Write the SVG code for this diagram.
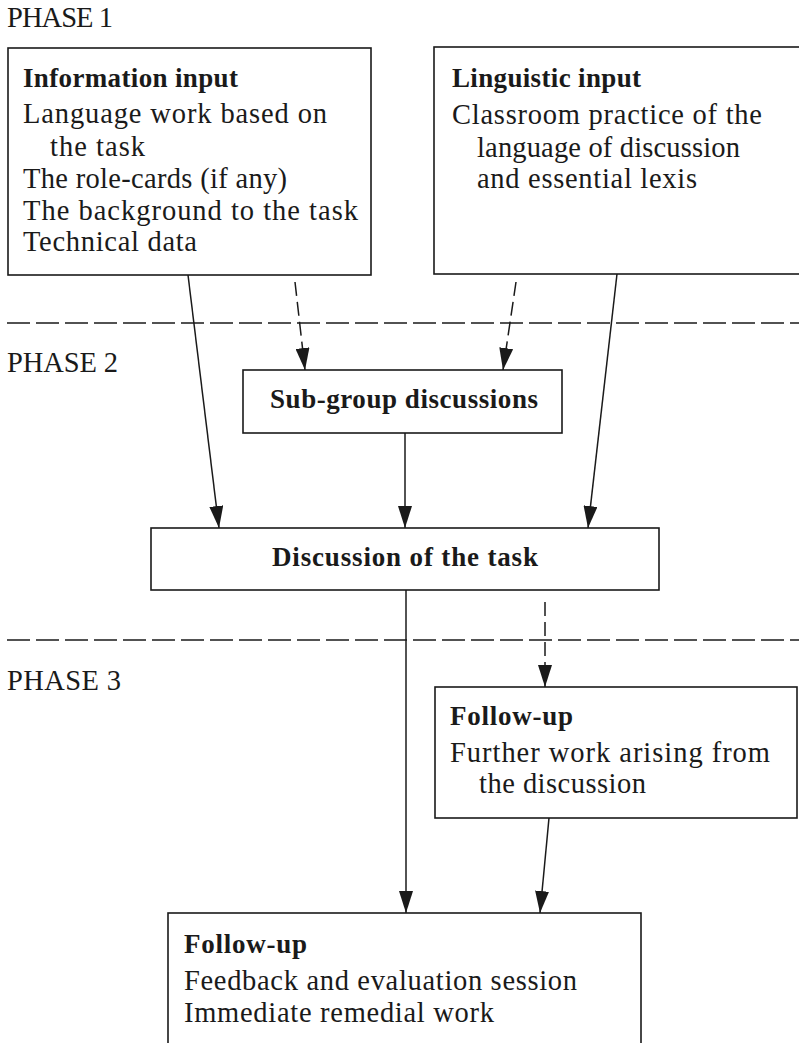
<svg xmlns="http://www.w3.org/2000/svg" width="799" height="1043" viewBox="0 0 799 1043">
<style>
.bg{fill:#ffffff}
.box{fill:#ffffff;stroke:#1a1a1a;stroke-width:1.6}
.t{font-family:"Liberation Serif","Times New Roman",serif;font-size:28.5px;fill:#1a1a1a}
.b{font-weight:bold;font-size:27px}
.conn{stroke:#1a1a1a;stroke-width:1.5;fill:none}
.dash{stroke-dasharray:14 6}
.sep{stroke:#1a1a1a;stroke-width:1.6;stroke-dasharray:23 6;fill:none}
</style>
<defs>
<marker id="ah" markerUnits="userSpaceOnUse" markerWidth="22" markerHeight="14" refX="22" refY="7" orient="auto" viewBox="0 0 22 14">
<path d="M0,0 L22,7 L0,14 Z" fill="#1a1a1a"/>
</marker>
</defs>
<rect class="bg" x="0" y="0" width="799" height="1043"/>

<g id="phase-labels">
<text class="t" x="7" y="27" textLength="106">PHASE 1</text>
<text class="t" x="7" y="372" textLength="111">PHASE 2</text>
<text class="t" x="7" y="690" textLength="114">PHASE 3</text>
</g>

<g id="separators">
<line class="sep" x1="7" y1="323" x2="799" y2="323"/>
<line class="sep" x1="7" y1="640" x2="799" y2="640"/>
</g>

<g id="connectors">
<line class="conn" x1="188" y1="275" x2="219" y2="528" marker-end="url(#ah)"/>
<line class="conn dash" x1="295" y1="282" x2="305" y2="370" marker-end="url(#ah)"/>
<line class="conn dash" x1="516" y1="282" x2="503" y2="370" marker-end="url(#ah)"/>
<line class="conn" x1="617" y1="274" x2="588" y2="528" marker-end="url(#ah)"/>
<line class="conn" x1="405" y1="433" x2="405" y2="528" marker-end="url(#ah)"/>
<line class="conn" x1="406" y1="590" x2="406" y2="913" marker-end="url(#ah)"/>
<line class="conn dash" x1="545" y1="602" x2="545" y2="687" marker-end="url(#ah)"/>
<line class="conn" x1="549" y1="818" x2="540" y2="913" marker-end="url(#ah)"/>
</g>

<g id="information-input">
<rect class="box" x="8" y="48" width="363" height="227"/>
<text class="t b" x="23" y="87" textLength="215">Information input</text>
<text class="t" x="23" y="123" textLength="304">Language work based on</text>
<text class="t" x="50" y="156" textLength="95">the task</text>
<text class="t" x="23" y="188" textLength="264">The role-cards (if any)</text>
<text class="t" x="23" y="220" textLength="335">The background to the task</text>
<text class="t" x="23" y="251" textLength="174">Technical data</text>
</g>

<g id="linguistic-input">
<rect class="box" x="434" y="47" width="380" height="227"/>
<text class="t b" x="452" y="87" textLength="189">Linguistic input</text>
<text class="t" x="452" y="124" textLength="310">Classroom practice of the</text>
<text class="t" x="477" y="157" textLength="263">language of discussion</text>
<text class="t" x="477" y="188" textLength="220">and essential lexis</text>
</g>

<g id="sub-group">
<rect class="box" x="243" y="370" width="319" height="63"/>
<text class="t b" x="270" y="408" textLength="268">Sub-group discussions</text>
</g>

<g id="discussion">
<rect class="box" x="151" y="528" width="508" height="62"/>
<text class="t b" x="272" y="566" textLength="266">Discussion of the task</text>
</g>

<g id="follow-up-1">
<rect class="box" x="435" y="687" width="362" height="131"/>
<text class="t b" x="450" y="725" textLength="123">Follow-up</text>
<text class="t" x="450" y="762" textLength="320">Further work arising from</text>
<text class="t" x="479" y="793" textLength="167">the discussion</text>
</g>

<g id="follow-up-2">
<rect class="box" x="168" y="913" width="473" height="150"/>
<text class="t b" x="184" y="953" textLength="123">Follow-up</text>
<text class="t" x="184" y="990" textLength="393">Feedback and evaluation session</text>
<text class="t" x="184" y="1022" textLength="310">Immediate remedial work</text>
</g>
</svg>
